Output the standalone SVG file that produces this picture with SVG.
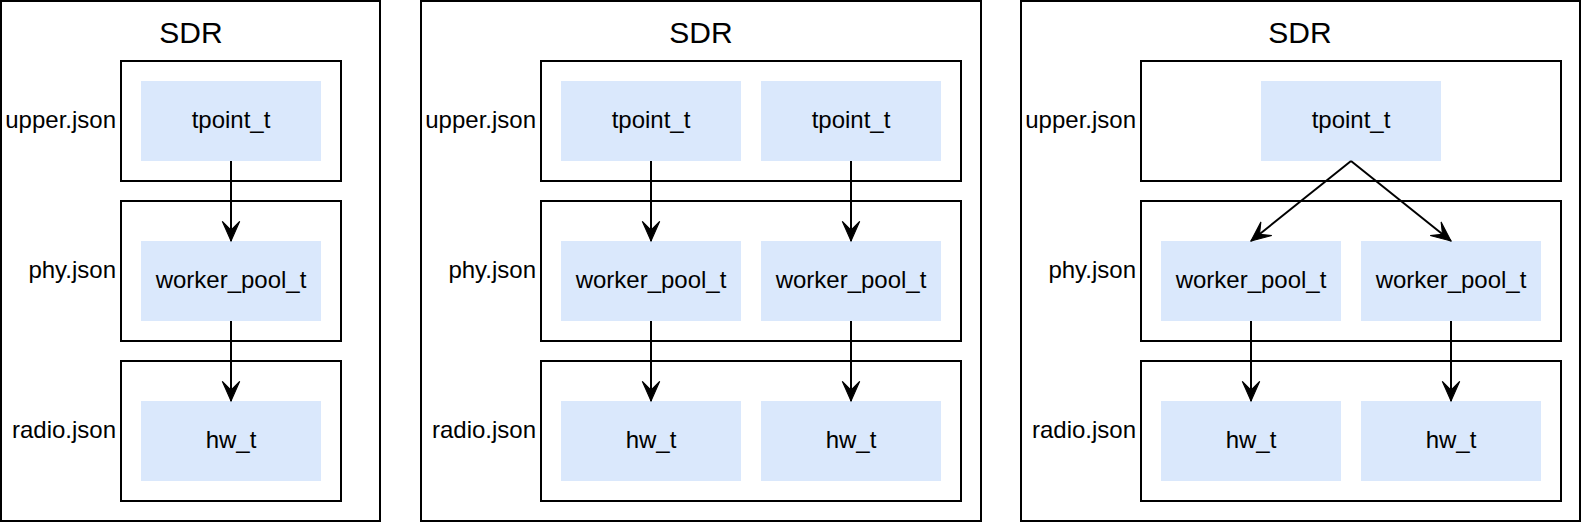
<svg xmlns="http://www.w3.org/2000/svg" width="1582" height="522" viewBox="0 0 1582 522">
<style>
.frame{fill:#fff;stroke:#000;stroke-width:2}
.box{fill:#dae8fc;stroke:none}
.t{font-family:"Liberation Sans",Arial,sans-serif;font-size:24px;fill:#000}
.c{text-anchor:middle}
.r{text-anchor:end}
.title{font-family:"Liberation Sans",Arial,sans-serif;font-size:30px;fill:#000;text-anchor:middle}
.edge{fill:none;stroke:#000;stroke-width:2}
</style>
<defs>
<marker id="arr" markerUnits="userSpaceOnUse" markerWidth="24" markerHeight="24" viewBox="-20 -10 22 20" refX="0" refY="0" orient="auto">
<path d="M0,0 L-18,-8 L-10,0 L-18,8 Z" fill="#000" stroke="#000" stroke-width="1"/>
</marker>
</defs>
<g id="panel1">
<rect class="frame" x="1" y="1" width="379" height="520"/>
<text class="title" x="191" y="43">SDR</text>
<rect class="frame" x="121" y="61" width="220" height="120"/>
<rect class="frame" x="121" y="201" width="220" height="140"/>
<rect class="frame" x="121" y="361" width="220" height="140"/>
<text class="t r" x="116" y="128">upper.json</text>
<text class="t r" x="116" y="278">phy.json</text>
<text class="t r" x="116" y="438">radio.json</text>
</g>
<g id="p1-tpoint"><rect class="box" x="141" y="81" width="180" height="80"/><text class="t c" x="231" y="128">tpoint_t</text></g>
<g id="p1-worker"><rect class="box" x="141" y="241" width="180" height="80"/><text class="t c" x="231" y="288">worker_pool_t</text></g>
<g id="p1-hw"><rect class="box" x="141" y="401" width="180" height="80"/><text class="t c" x="231" y="448">hw_t</text></g>

<g id="panel2">
<rect class="frame" x="421" y="1" width="560" height="520"/>
<text class="title" x="701" y="43">SDR</text>
<rect class="frame" x="541" y="61" width="420" height="120"/>
<rect class="frame" x="541" y="201" width="420" height="140"/>
<rect class="frame" x="541" y="361" width="420" height="140"/>
<text class="t r" x="536" y="128">upper.json</text>
<text class="t r" x="536" y="278">phy.json</text>
<text class="t r" x="536" y="438">radio.json</text>
</g>
<g id="p2-tpoint1"><rect class="box" x="561" y="81" width="180" height="80"/><text class="t c" x="651" y="128">tpoint_t</text></g>
<g id="p2-tpoint2"><rect class="box" x="761" y="81" width="180" height="80"/><text class="t c" x="851" y="128">tpoint_t</text></g>
<g id="p2-worker1"><rect class="box" x="561" y="241" width="180" height="80"/><text class="t c" x="651" y="288">worker_pool_t</text></g>
<g id="p2-worker2"><rect class="box" x="761" y="241" width="180" height="80"/><text class="t c" x="851" y="288">worker_pool_t</text></g>
<g id="p2-hw1"><rect class="box" x="561" y="401" width="180" height="80"/><text class="t c" x="651" y="448">hw_t</text></g>
<g id="p2-hw2"><rect class="box" x="761" y="401" width="180" height="80"/><text class="t c" x="851" y="448">hw_t</text></g>

<g id="panel3">
<rect class="frame" x="1021" y="1" width="559" height="520"/>
<text class="title" x="1300" y="43">SDR</text>
<rect class="frame" x="1141" y="61" width="420" height="120"/>
<rect class="frame" x="1141" y="201" width="420" height="140"/>
<rect class="frame" x="1141" y="361" width="420" height="140"/>
<text class="t r" x="1136" y="128">upper.json</text>
<text class="t r" x="1136" y="278">phy.json</text>
<text class="t r" x="1136" y="438">radio.json</text>
</g>
<g id="p3-tpoint"><rect class="box" x="1261" y="81" width="180" height="80"/><text class="t c" x="1351" y="128">tpoint_t</text></g>
<g id="p3-worker1"><rect class="box" x="1161" y="241" width="180" height="80"/><text class="t c" x="1251" y="288">worker_pool_t</text></g>
<g id="p3-worker2"><rect class="box" x="1361" y="241" width="180" height="80"/><text class="t c" x="1451" y="288">worker_pool_t</text></g>
<g id="p3-hw1"><rect class="box" x="1161" y="401" width="180" height="80"/><text class="t c" x="1251" y="448">hw_t</text></g>
<g id="p3-hw2"><rect class="box" x="1361" y="401" width="180" height="80"/><text class="t c" x="1451" y="448">hw_t</text></g>

<g id="connectors">
<path class="edge" marker-end="url(#arr)" d="M231,161 L231,241"/>
<path class="edge" marker-end="url(#arr)" d="M231,321 L231,401"/>
<path class="edge" marker-end="url(#arr)" d="M651,161 L651,241"/>
<path class="edge" marker-end="url(#arr)" d="M851,161 L851,241"/>
<path class="edge" marker-end="url(#arr)" d="M651,321 L651,401"/>
<path class="edge" marker-end="url(#arr)" d="M851,321 L851,401"/>
<path class="edge" marker-end="url(#arr)" d="M1351,161 L1251,241"/>
<path class="edge" marker-end="url(#arr)" d="M1351,161 L1451,241"/>
<path class="edge" marker-end="url(#arr)" d="M1251,321 L1251,401"/>
<path class="edge" marker-end="url(#arr)" d="M1451,321 L1451,401"/>
</g>
</svg>
